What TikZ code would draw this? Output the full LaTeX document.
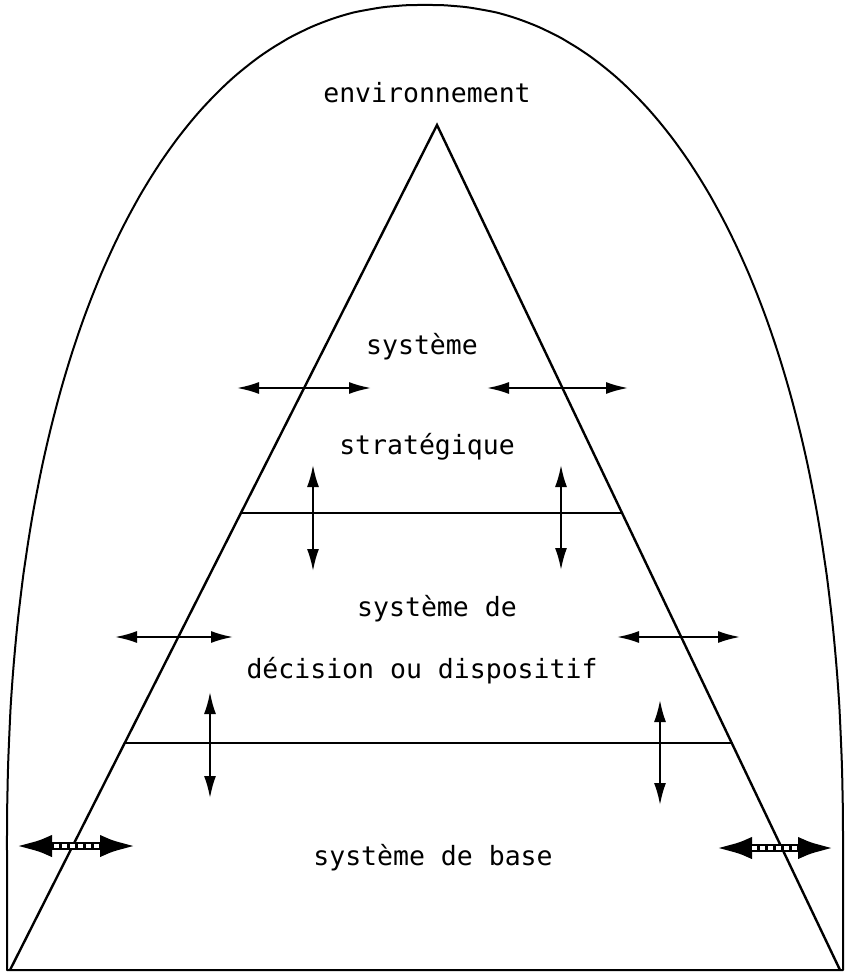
\documentclass[tikz,border=0pt]{standalone}
\usepackage{fontspec}
\setmonofont{DejaVu Sans Mono}
\usetikzlibrary{arrows.meta}
\begin{document}
\begin{tikzpicture}[x=1pt,y=-1pt,
  lbl/.style={font=\ttfamily\fontsize{26.5}{32}\selectfont, inner sep=0pt},
  frame/.style={line width=2pt},
  edge/.style={line width=2.4pt},
  flow/.style={line width=2pt, {Latex[length=22pt,width=12pt]}-{Latex[length=22pt,width=12pt]}},
  bigflow/.style={line width=8pt, {Latex[length=40pt,width=22pt]}-{Latex[length=40pt,width=22pt]}},
  hatch/.style={line width=4pt, white, dash pattern=on 5pt off 3pt}]
\useasboundingbox (0,0) rectangle (850,973);

% corners of the pyramid and of the surrounding dome
\coordinate (apex) at (437,125);
\coordinate (bl) at (10,970);
\coordinate (br) at (840,970);
\coordinate (dl) at (7,970);
\coordinate (dr) at (843,970);

% environment dome: a super-elliptic arch on two upright sides
\draw[frame, line join=round] (dl) -- (7,850)
  -- plot[domain=0:90, samples=91, smooth]
     ({425-418*(abs(cos(\x))+0.0001)^0.909},{850-845*(abs(sin(\x))+0.0001)^0.909})
  -- plot[domain=90:0, samples=91, smooth]
     ({425+418*(abs(cos(\x))+0.0001)^0.909},{850-845*(abs(sin(\x))+0.0001)^0.909})
  -- (dr) -- cycle;

% pyramid and its levels
\draw[edge] (bl) -- (apex) -- (br);
\coordinate (l1a) at (241,513); \coordinate (l1b) at (622,513);
\coordinate (l2a) at (125,743); \coordinate (l2b) at (733,743);
\draw[line width=1.8pt] (l1a) -- (l1b);
\draw[line width=1.8pt] (l2a) -- (l2b);

% labels
\node[lbl] (env) at (427,93) {environnement};
\node[lbl] (s1) at (422,347) {système};
\node[lbl] (s2) at (427,447) {stratégique};
\node[lbl] (d1) at (437,609) {système de};
\node[lbl] (d2) at (422,671) {décision ou dispositif};
\node[lbl] (b1) at (433,858) {système de base};

% exchanges of the strategic system
\coordinate (a1) at (237,388); \coordinate (a2) at (371,388);
\coordinate (a3) at (487,388); \coordinate (a4) at (628,388);
\draw[flow] (a1) -- (a2);
\draw[flow] (a3) -- (a4);
\coordinate (v1) at (313,465); \coordinate (v2) at (313,571);
\coordinate (v3) at (561,465); \coordinate (v4) at (561,570);
\draw[flow] (v1) -- (v2);
\draw[flow] (v3) -- (v4);

% exchanges of the decision system
\coordinate (b1a) at (115,637); \coordinate (b1b) at (233,637);
\coordinate (b2a) at (617,637); \coordinate (b2b) at (740,637);
\draw[flow] (b1a) -- (b1b);
\draw[flow] (b2a) -- (b2b);
\coordinate (w1) at (210,692); \coordinate (w2) at (210,798);
\coordinate (w3) at (660,700); \coordinate (w4) at (660,805);
\draw[flow] (w1) -- (w2);
\draw[flow] (w3) -- (w4);

% exchanges of the base system
\coordinate (h1) at (12,846); \coordinate (h2) at (140,846);
\coordinate (h3) at (712,848); \coordinate (h4) at (838,848);
\draw[bigflow] (h1) -- (h2);
\draw[bigflow] (h3) -- (h4);
\draw[hatch] (54,846) -- (100,846);
\draw[hatch] (752,848) -- (798,848);
\end{tikzpicture}
\end{document}
